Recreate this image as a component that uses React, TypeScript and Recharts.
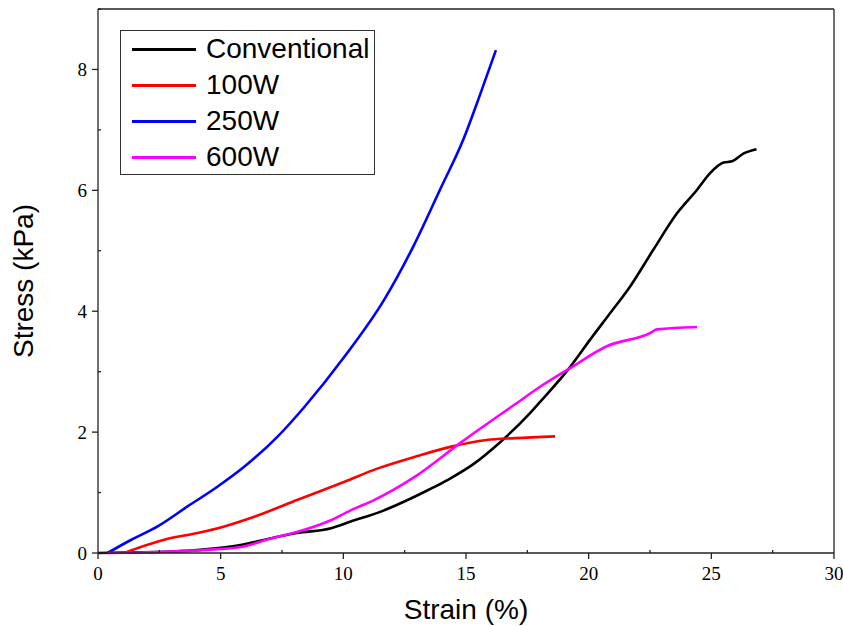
import { LineChart, Line, XAxis, YAxis, Legend } from "recharts";

// strain (%) / stress (kPa)
const conventionalStrain = [0, 1.5, 2.7, 3.8, 4.9, 5.8, 6.8, 8.1, 9.5, 10.3, 11.5, 12.9, 13.5, 14.3, 15.3, 16.3, 17.6, 18.02, 19.25, 20.06, 20.88, 21.69, 22.64, 23.6, 24.42, 24.96, 25.5, 25.84, 26.32, 26.84];
const conventionalStress = [0, 0.01, 0.02, 0.04, 0.08, 0.13, 0.22, 0.33, 0.41, 0.52, 0.68, 0.93, 1.05, 1.22, 1.47, 1.8, 2.31, 2.5, 3.08, 3.53, 3.97, 4.41, 5.02, 5.62, 6.01, 6.29, 6.46, 6.48, 6.61, 6.68];

const w100Strain = [1.07, 1.6, 2.7, 4.06, 5.15, 6.37, 8.14, 10.05, 11.41, 12.9, 14.4, 15.84, 17.0, 18.63];
const w100Stress = [0, 0.08, 0.22, 0.33, 0.44, 0.6, 0.88, 1.18, 1.4, 1.59, 1.76, 1.87, 1.9, 1.93];

const w250Strain = [0.39, 1.34, 2.43, 3.65, 4.88, 5.97, 7.33, 8.42, 10.05, 11.68, 12.85, 13.94, 14.89, 15.57, 16.22];
const w250Stress = [0, 0.215, 0.44, 0.77, 1.1, 1.43, 1.93, 2.42, 3.25, 4.2, 5.07, 6.01, 6.84, 7.58, 8.32];

const w600Strain = [0.39, 2.7, 4.74, 5.83, 7.05, 8.14, 9.37, 10.32, 11.27, 12.91, 14.8, 17.0, 18.02, 19.25, 20.74, 22.51, 22.78, 24.42];
const w600Stress = [0, 0.02, 0.06, 0.1, 0.24, 0.35, 0.52, 0.71, 0.88, 1.26, 1.83, 2.46, 2.75, 3.06, 3.42, 3.64, 3.7, 3.74];

const xTicks = [0, 2.5, 5, 7.5, 10, 12.5, 15, 17.5, 20, 22.5, 25, 27.5, 30];
const yTicks = [0, 1, 2, 3, 4, 5, 6, 7, 8, 9];

const zip = (xs: number[], ys: number[]) => xs.map((x, i) => ({ x, y: ys[i] }));

const series = [
  { name: "Conventional", color: "#000000", data: zip(conventionalStrain, conventionalStress) },
  { name: "100W", color: "#ff0000", data: zip(w100Strain, w100Stress) },
  { name: "250W", color: "#0000ff", data: zip(w250Strain, w250Stress) },
  { name: "600W", color: "#ff00ff", data: zip(w600Strain, w600Stress) },
];

const AXIS = "#222";
const SERIF = "'Liberation Serif', 'Times New Roman', serif";
const SANS = "'Liberation Sans', Arial, sans-serif";

const BottomTick = ({ x, y, payload }: any) => {
  const major = payload.value % 5 === 0;
  return (
    <g>
      <line x1={x} x2={x} y1={y} y2={major ? y + 6 : y - 3} stroke={AXIS} strokeWidth={1.3} />
      {major && (
        <text x={x} y={y + 27} textAnchor="middle" fontFamily={SERIF} fontSize={19} fill="#000">
          {payload.value}
        </text>
      )}
    </g>
  );
};

const TopTick = ({ x, y }: any) => (
  <line x1={x} x2={x} y1={y} y2={y + 3} stroke={AXIS} strokeWidth={1.3} />
);

const LeftTick = ({ x, y, payload }: any) => {
  const major = payload.value % 2 === 0;
  return (
    <g>
      <line x1={x} x2={major ? x - 6 : x + 3} y1={y} y2={y} stroke={AXIS} strokeWidth={1.3} />
      {major && (
        <text x={x - 11} y={y} textAnchor="end" dominantBaseline="central" fontFamily={SERIF} fontSize={19} fill="#000">
          {payload.value}
        </text>
      )}
    </g>
  );
};

const RightTick = ({ x, y }: any) => (
  <line x1={x} x2={x - 3} y1={y} y2={y} stroke={AXIS} strokeWidth={1.3} />
);

const LegendBox = () => (
  <div
    style={{
      width: 255,
      height: 145,
      boxSizing: "border-box",
      border: "1.3px solid #333",
      background: "#fff",
    }}
  >
    {series.map((s) => (
      <div key={s.name} style={{ height: 36, display: "flex", alignItems: "center" }}>
        <div style={{ marginLeft: 11, width: 64, height: 3, background: s.color }} />
        <span style={{ marginLeft: 10, fontFamily: SANS, fontSize: 28, color: "#000", lineHeight: "36px" }}>
          {s.name}
        </span>
      </div>
    ))}
  </div>
);

export default function App() {
  return (
    <div style={{ position: "absolute", left: 0, top: 0, background: "#fff" }}>
      <LineChart width={843} height={626} margin={{ top: 8, right: 8, left: 0, bottom: 0 }}>
        <XAxis
          xAxisId="b"
          dataKey="x"
          type="number"
          domain={[0, 30]}
          ticks={xTicks}
          interval={0}
          tickSize={0}
          tickMargin={0}
          tickLine={false}
          axisLine={{ stroke: AXIS, strokeWidth: 1.3 }}
          tick={(p: any) => <BottomTick {...p} />}
          height={73}
          allowDuplicatedCategory={false}
          label={{
            value: "Strain (%)",
            position: "insideBottom",
            offset: 7,
            style: { fontFamily: SANS, fontSize: 28, fill: "#000" },
          }}
        />
        <XAxis
          xAxisId="t"
          orientation="top"
          dataKey="x"
          type="number"
          domain={[0, 30]}
          ticks={xTicks}
          interval={0}
          tickSize={0}
          tickMargin={0}
          tickLine={false}
          axisLine={{ stroke: AXIS, strokeWidth: 1.3 }}
          tick={(p: any) => <TopTick {...p} />}
          height={1}
        />
        <YAxis
          yAxisId="l"
          type="number"
          domain={[0, 9]}
          ticks={yTicks}
          interval={0}
          tickSize={0}
          tickMargin={0}
          tickLine={false}
          axisLine={{ stroke: AXIS, strokeWidth: 1.3 }}
          tick={(p: any) => <LeftTick {...p} />}
          width={98}
          label={() => (
            <text
              x={33}
              y={281}
              transform="rotate(-90, 33, 281)"
              textAnchor="middle"
              fontFamily={SANS}
              fontSize={28}
              fill="#000"
            >
              Stress (kPa)
            </text>
          )}
        />
        <YAxis
          yAxisId="r"
          orientation="right"
          type="number"
          domain={[0, 9]}
          ticks={yTicks}
          interval={0}
          tickSize={0}
          tickMargin={0}
          tickLine={false}
          axisLine={{ stroke: AXIS, strokeWidth: 1.3 }}
          tick={(p: any) => <RightTick {...p} />}
          width={1}
        />
        <Legend
          layout="vertical"
          align="center"
          verticalAlign="middle"
          content={() => <LegendBox />}
          wrapperStyle={{ left: 120, top: 30, width: 255, height: 145 }}
        />
        {series.map((s) => (
          <Line
            key={s.name}
            xAxisId="b"
            yAxisId="l"
            data={s.data}
            dataKey="y"
            name={s.name}
            type="monotone"
            stroke={s.color}
            strokeWidth={2.6}
            dot={false}
            isAnimationActive={false}
          />
        ))}
      </LineChart>
    </div>
  );
}
